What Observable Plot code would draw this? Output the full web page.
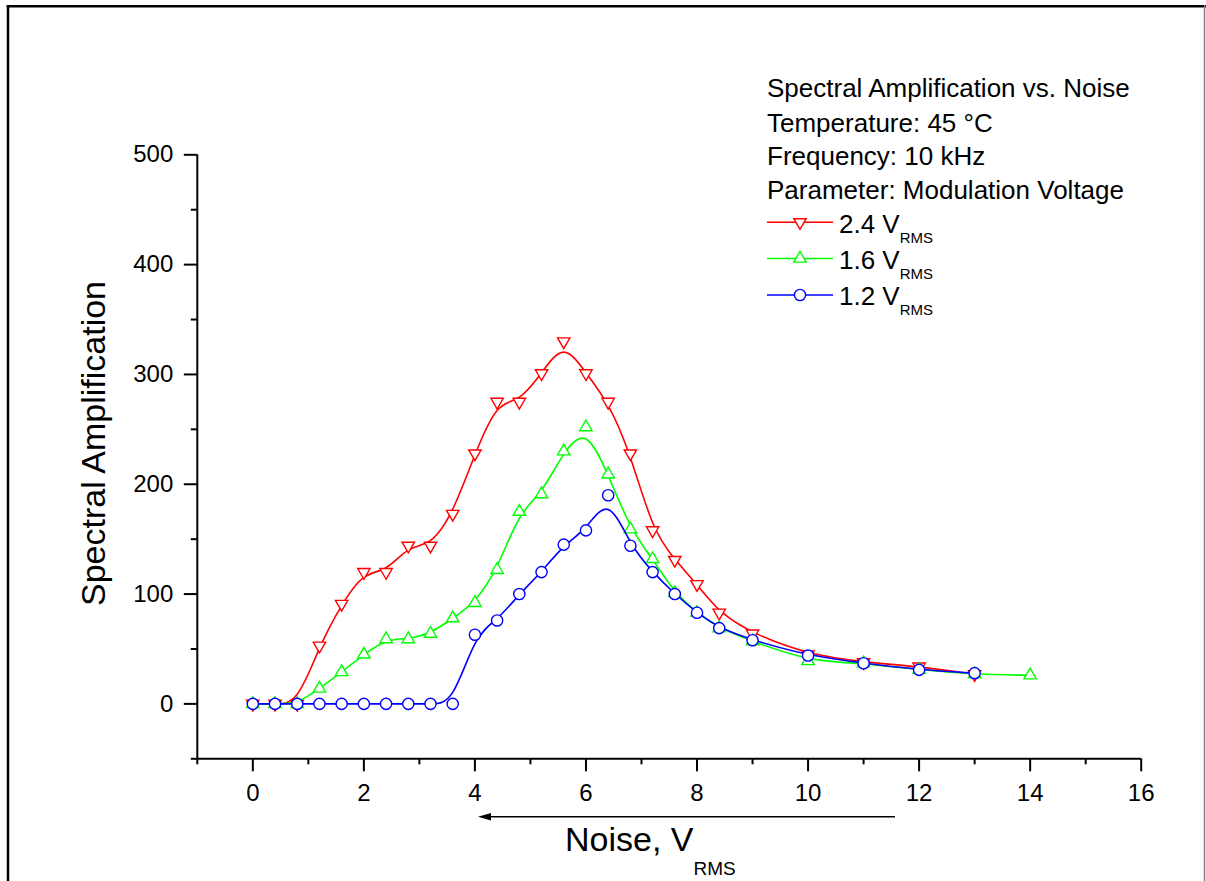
<!DOCTYPE html>
<html>
<head>
<meta charset="utf-8">
<script src="https://cdn.jsdelivr.net/npm/d3@7"></script>
<script src="https://cdn.jsdelivr.net/npm/@observablehq/plot@0.6"></script>
<style>
  html, body { margin: 0; padding: 0; background: #fff; }
  #chart svg { display: block; }
</style>
</head>
<body>
<div id="chart"></div>
<script>
// ---- Data ----
const noiseRed   = [0,0.4,0.8,1.2,1.6,2.0,2.4,2.8,3.2,3.6,4.0,4.4,4.8,5.2,5.6,6.0,6.4,6.8,7.2,7.6,8.0,8.4,9,10,11,12,13];
const ampRed     = [0,0,0,53,91,120,120,144,144,173,228,275,275,301,330,301,275,228,158,131,109,83,64,45,38,34,27];

const noiseGreen = [0,0.4,0.8,1.2,1.6,2.0,2.4,2.8,3.2,3.6,4.0,4.4,4.8,5.2,5.6,6.0,6.4,6.8,7.2,7.6,8.0,8.4,9,10,11,12,13,14];
const ampGreen   = [0,0,0,14,29,45,59,59,64,78,92,122,175,191,230,252,209,159,132,101,83,69,57,39,37,31,27,26];

const noiseBlue  = [0,0.4,0.8,1.2,1.6,2.0,2.4,2.8,3.2,3.6,4.0,4.4,4.8,5.2,5.6,6.0,6.4,6.8,7.2,7.6,8.0,8.4,9,10,11,12,13];
const ampBlue    = [0,0,0,0,0,0,0,0,0,0,63,76,100,120,145,158,190,144,120,100,83,69,58,44,37,31,28];

const seriesNames = ["2.4", "1.6", "1.2"];
const seriesColors = ["#ff0000", "#00ff00", "#0000ff"];

const xMajorTicks = [0,2,4,6,8,10,12,14,16];
const xMinorTicks = [-1,1,3,5,7,9,11,13,15];
const yMajorTicks = [0,100,200,300,400,500];
const yMinorTicks = [-50,50,150,250,350,450];

const infoLines = [
  "Spectral Amplification vs. Noise",
  "Temperature: 45 \u00B0C",
  "Frequency: 10 kHz",
  "Parameter: Modulation Voltage"
];

// ---- Symbols ----
const downTriangle = {
  draw(context, size) {
    const y = Math.sqrt(size / (Math.sqrt(3) * 3));
    context.moveTo(0, 2 * y);
    context.lineTo(-Math.sqrt(3) * y, -y);
    context.lineTo(Math.sqrt(3) * y, -y);
    context.closePath();
  }
};
const symbols = [downTriangle, d3.symbolTriangle, d3.symbolCircle];
const radii = [4.6, 4.6, 5.6];

const xsAll = [noiseRed, noiseGreen, noiseBlue];
const ysAll = [ampRed, ampGreen, ampBlue];

const FONT = "'Liberation Sans', Arial, Helvetica, sans-serif";

const marks = [];
for (let k = 0; k < 3; k++) {
  const data = xsAll[k].map((x, i) => ({x, y: ysAll[k][i]}));
  marks.push(Plot.line(data, {x: "x", y: "y", curve: "basis", stroke: seriesColors[k], strokeWidth: 1.6}));
  marks.push(Plot.dot(data, {x: "x", y: "y", symbol: symbols[k], r: radii[k], stroke: seriesColors[k], fill: "white", strokeWidth: 1.4}));
}

const W = 1206, H = 881;
const chart = Plot.plot({
  width: W,
  height: H,
  marginLeft: 196.8,
  marginRight: 65.3,
  marginTop: 154.3,
  marginBottom: 122.7,
  style: {fontFamily: FONT, fontSize: "24px", background: "white", color: "black", overflow: "visible"},
  x: {domain: [-1, 16]},
  y: {domain: [-50, 500]},
  marks: [
    Plot.axisY(yMinorTicks, {tickSize: 6, tickFormat: () => "", strokeWidth: 2, label: null}),
    Plot.axisY(yMajorTicks, {tickSize: 13, tickPadding: 11, strokeWidth: 2, label: null}),
    Plot.axisX(xMinorTicks, {tickSize: 6, tickFormat: () => "", strokeWidth: 2, label: null}),
    Plot.axisX(xMajorTicks, {tickSize: 13, tickPadding: 12, strokeWidth: 2, label: null}),
    Plot.ruleX([-1], {strokeWidth: 2}),
    Plot.ruleY([-50], {strokeWidth: 2}),
    ...marks
  ]
});

document.getElementById("chart").appendChild(chart);

// ---- Decorations: border, titles, legend, arrow ----
const svg = d3.select(chart);
const deco = svg.append("g")
  .attr("font-family", FONT)
  .attr("fill", "black")
  .attr("text-anchor", "start");

// border
deco.append("line").attr("x1", 6.7).attr("x2", W).attr("y1", 6.2).attr("y2", 6.2)
  .attr("stroke", "black").attr("stroke-width", 2.5);
deco.append("line").attr("x1", 8).attr("x2", 8).attr("y1", 5).attr("y2", H)
  .attr("stroke", "black").attr("stroke-width", 2.5);
deco.append("line").attr("x1", 1204.5).attr("x2", 1204.5).attr("y1", 5).attr("y2", H)
  .attr("stroke", "#808080").attr("stroke-width", 1.5);

// y-axis title
deco.append("text")
  .attr("transform", "translate(105,443.5) rotate(-90)")
  .attr("text-anchor", "middle")
  .attr("font-size", 34)
  .text("Spectral Amplification");

// x-axis title with subscript
const xt = deco.append("text").attr("x", 565).attr("y", 851).attr("font-size", 34).attr("text-anchor", "start");
xt.append("tspan").text("Noise, V");
xt.append("tspan").attr("font-size", 19).attr("dy", 24).text("RMS");

// arrow
deco.append("line").attr("x1", 895).attr("x2", 486).attr("y1", 816.7).attr("y2", 816.7)
  .attr("stroke", "black").attr("stroke-width", 1.5);
deco.append("path").attr("d", "M478,816.7 L491,812.9 L491,820.5 Z").attr("fill", "black");

// legend header lines
const infoBaselines = [97, 132, 165, 199];
infoLines.forEach((t, i) => {
  deco.append("text").attr("x", 767).attr("y", infoBaselines[i]).attr("font-size", 26)
    .attr("text-anchor", "start").text(t);
});

// legend entries
const legLineY = [222.3, 258.5, 295];
for (let k = 0; k < 3; k++) {
  const y = legLineY[k];
  deco.append("line").attr("x1", 767).attr("x2", 833).attr("y1", y).attr("y2", y)
    .attr("stroke", seriesColors[k]).attr("stroke-width", 1.6);
  const symPath = d3.symbol().type(symbols[k]).size(Math.PI * radii[k] * radii[k])();
  deco.append("path")
    .attr("transform", `translate(800,${y})`)
    .attr("d", symPath)
    .attr("fill", "white").attr("stroke", seriesColors[k]).attr("stroke-width", 1.4);
  const t = deco.append("text").attr("x", 839).attr("y", y + 10.3).attr("font-size", 26).attr("text-anchor", "start");
  t.append("tspan").text(seriesNames[k] + " V");
  t.append("tspan").attr("font-size", 15).attr("dy", 10).text("RMS");
}
</script>
</body>
</html>
